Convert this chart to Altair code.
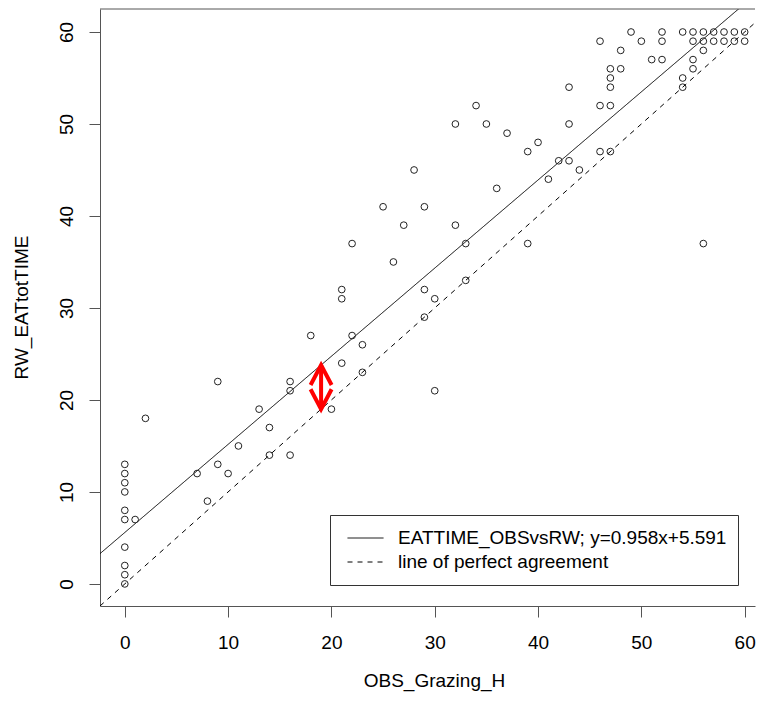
import altair as alt
import pandas as pd

# ---- data ----
obs_x = [0, 0, 0, 0, 0, 0, 0, 0, 0, 0,
         1, 2, 7, 8, 9, 9, 10, 11, 13, 14, 14, 16, 16, 16, 18, 20,
         21, 21, 21, 22, 22, 23, 23, 25, 26, 27, 28, 29, 29, 29, 30, 30,
         32, 32, 33, 33, 34, 35, 36, 37, 39, 39, 40, 41, 42, 43, 43, 43, 44,
         46, 46, 46, 47, 47, 47, 47, 47, 48, 48, 49, 50, 51, 52, 52, 52,
         54, 54, 54, 55, 55, 55, 55, 56, 56, 56, 56, 57, 57, 58, 58, 59, 59, 60, 60]
rw_y = [13, 12, 11, 10, 8, 7, 4, 2, 1, 0,
        7, 18, 12, 9, 13, 22, 12, 15, 19, 17, 14, 14, 22, 21, 27, 19,
        32, 31, 24, 37, 27, 26, 23, 41, 35, 39, 45, 41, 32, 29, 31, 21,
        39, 50, 37, 33, 52, 50, 43, 49, 47, 37, 48, 44, 46, 46, 50, 54, 45,
        59, 52, 47, 56, 55, 54, 52, 47, 58, 56, 60, 59, 57, 60, 59, 57,
        60, 55, 54, 60, 59, 57, 56, 60, 59, 58, 37, 60, 59, 60, 59, 60, 59, 60, 59]

slope = 0.958
intercept = 5.591
fit_label = "EATTIME_OBSvsRW; y=0.958x+5.591"
ref_label = "line of perfect agreement"

tick_values = [0, 10, 20, 30, 40, 50, 60]
x_lo, x_hi = -2.4, 61.0
y_lo, y_hi = -2.4, 62.5

arrow_x = 19
arrow_lo = 19
arrow_hi = slope * arrow_x + intercept

# ---- tables ----
points = pd.DataFrame({"x": obs_x, "y": rw_y})
line_x = [x_lo, x_hi]
lines = pd.DataFrame({
    "x": line_x + line_x,
    "y": [slope * v + intercept for v in line_x] + line_x,
    "series": [fit_label, fit_label, ref_label, ref_label],
})
arrow = pd.DataFrame({"x": [arrow_x], "y": [arrow_lo], "y2": [arrow_hi]})
head_up = pd.DataFrame({"x": [arrow_x], "y": [arrow_hi]})
head_down = pd.DataFrame({"x": [arrow_x], "y": [arrow_lo]})

FONT = "Liberation Sans"
AX = "#555555"

xs = alt.Scale(domain=[x_lo, x_hi], nice=False, zero=False)
ys = alt.Scale(domain=[y_lo, y_hi], nice=False, zero=False)

x_axis = alt.Axis(values=tick_values, title="OBS_Grazing_H", grid=False,
                  tickSize=11, tickColor=AX, domainColor=AX,
                  labelPadding=16, labelFontSize=19, labelFont=FONT, labelColor="black",
                  labelFlush=False,
                  titleFontSize=19, titleFont=FONT, titleFontWeight="normal", titleColor="black",
                  titleX=334, titleY=65, titleBaseline="top")
y_axis = alt.Axis(values=tick_values, title="RW_EATtotTIME", grid=False,
                  tickSize=11, tickColor=AX, domainColor=AX,
                  labelPadding=17, labelFontSize=19, labelFont=FONT, labelColor="black",
                  labelAngle=270, labelAlign="center", labelBaseline="alphabetic",
                  labelFlush=False,
                  titleFontSize=19, titleFont=FONT, titleFontWeight="normal", titleColor="black",
                  titleAngle=270, titleAlign="center", titleBaseline="alphabetic",
                  titleX=-73, titleY=298)


def X(field="x"):
    return alt.X(f"{field}:Q", scale=xs, axis=x_axis)


def Y(field="y"):
    return alt.Y(f"{field}:Q", scale=ys, axis=y_axis)


line_layer = alt.Chart(lines).mark_line(color="black", strokeWidth=1, clip=True).encode(
    x=X(), y=Y(),
    strokeDash=alt.StrokeDash(
        "series:N",
        scale=alt.Scale(domain=[fit_label, ref_label], range=[[1, 0], [5, 5]]),
        legend=alt.Legend(title=None, orient="none", legendX=230, legendY=506,
                          direction="vertical", strokeColor="#333333", fillColor="white",
                          padding=11, symbolType="stroke", symbolSize=1296,
                          symbolStrokeWidth=1, symbolStrokeColor="black", symbolOffset=6,
                          labelOffset=14, labelFontSize=19, labelFont=FONT,
                          labelColor="black", labelLimit=500, clipHeight=24, rowPadding=0),
    ),
    detail="series:N",
)

point_layer = alt.Chart(points).mark_point(shape="circle", filled=False, size=45,
                                           stroke="#222222", strokeWidth=1, opacity=1).encode(
    x=X(), y=Y())

shaft = alt.Chart(arrow).mark_rule(color="red", strokeWidth=4, strokeCap="butt").encode(
    x=X(), y=Y(), y2=alt.Y2("y2:Q"))

up_path = "M-1,1.9L0,0L1,1.9"
down_path = "M-1,-1.9L0,0L1,-1.9"
head1 = alt.Chart(head_up).mark_point(shape=up_path, filled=False, size=441,
                                      stroke="red", strokeWidth=4, opacity=1,
                                      strokeJoin="miter").encode(x=X(), y=Y())
head2 = alt.Chart(head_down).mark_point(shape=down_path, filled=False, size=441,
                                        stroke="red", strokeWidth=4, opacity=1,
                                        strokeJoin="miter").encode(x=X(), y=Y())

frame_top = alt.Chart(pd.DataFrame({"k": [0]})).mark_rule(color=AX, strokeWidth=1).encode(
    y=alt.value(0))

chart = alt.layer(line_layer, point_layer, shaft, head1, head2, frame_top).properties(
    width=655, height=597,
    padding={"left": 4, "top": 0, "right": 0, "bottom": 3},
    background="white",
).configure_view(stroke=None)

chart.save("out.html", embed_options={"renderer": "svg", "actions": False})
